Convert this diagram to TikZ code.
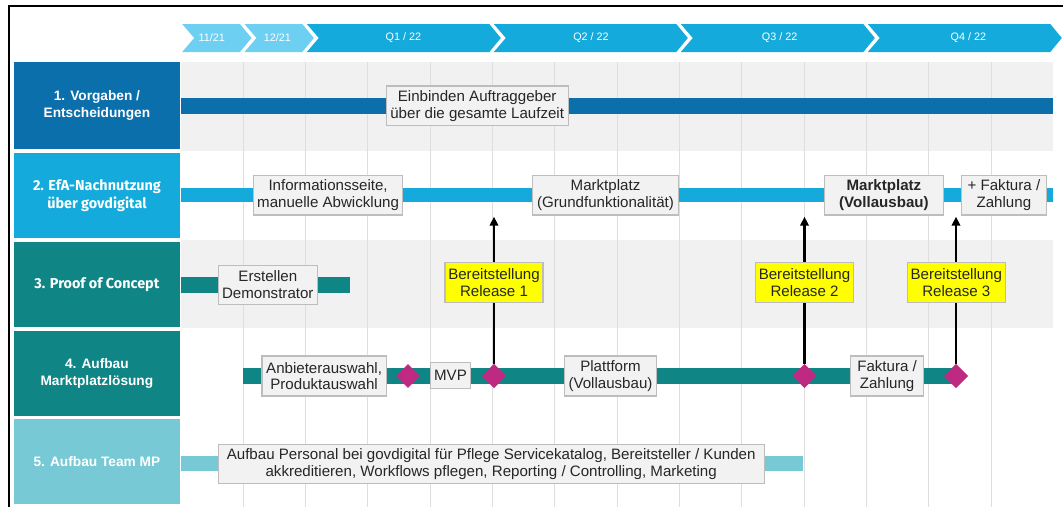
\documentclass[tikz,border=0pt]{standalone}
\usepackage{fontspec}
\setmainfont{Liberation Sans}
\newfontfamily\roundfont{Fira Sans}
\usetikzlibrary{shapes.geometric,arrows.meta}

\definecolor{darkblue}{HTML}{0B6FAC}
\definecolor{midblue}{HTML}{14ABDC}
\definecolor{paleblue}{HTML}{6DCFF1}
\definecolor{teal}{HTML}{108586}
\definecolor{lightteal}{HTML}{77CAD5}
\definecolor{magenta}{HTML}{BE2A81}
\definecolor{bandgrey}{HTML}{F1F1F1}
\definecolor{gridgrey}{HTML}{DEDEDE}
\definecolor{boxfill}{HTML}{F2F2F2}
\definecolor{boxline}{HTML}{BDBDBD}
\definecolor{textdark}{HTML}{262626}
\definecolor{relyellow}{HTML}{FFFF00}

\begin{document}
\begin{tikzpicture}[x=1pt,y=-1pt,
  rowlabel/.style={draw=none, text=white, align=center, inner sep=0,
    minimum width=166.8, font=\bfseries\fontsize{13.7}{16.7}\selectfont},
  roundlabel/.style={rowlabel, font=\roundfont\bfseries\fontsize{14.4}{17.5}\selectfont},
  chev/.style={fill=#1, draw=none},
  chevtext/.style={text=white, inner sep=0, font=\fontsize{10.8}{12}\selectfont},
  note/.style={fill=boxfill, draw=boxline, line width=1.1, text=textdark,
    align=center, inner sep=0, font=\fontsize{15.1}{16.8}\selectfont},
  relbox/.style={note, fill=relyellow, minimum width=98, minimum height=39.6},
  ms/.style={diamond, fill=magenta, draw=none, inner sep=0, aspect=1,
    minimum width=24, minimum height=24},
  gridline/.style={draw=gridgrey, line width=1},
  release/.style={draw=black, line width=2.2, -{Triangle[width=8.5,length=9]}}
]
\useasboundingbox (0,0) rectangle (1063,507);
\fill[white] (0,0) rectangle (1063,507);

% frame lines at the top and the left
\draw[black, line width=2.2] (7.5,6) -- (1063,6);
\draw[black, line width=2.6] (8.8,5) -- (8.8,507);

% timeline header: one chevron per month / quarter
\foreach \a/\b/\c/\t/\tx/\n in {180.7/243.0/paleblue/{11/21}/211.7/h1,
                                243.0/305.3/paleblue/{12/21}/277.3/h2,
                                305.3/492.3/midblue/{Q1 / 22}/403.4/h3,
                                492.3/679.3/midblue/{Q2 / 22}/591.0/h4,
                                679.3/866.3/midblue/{Q3 / 22}/779.7/h5,
                                866.3/1053.3/midblue/{Q4 / 22}/968.4/h6}{
  \fill[chev=\c] (\a+1.5,24) -- (\b-3,24) -- (\b+8.5,38) -- (\b-3,52)
     -- (\a+1.5,52) -- (\a+13.5,38) -- cycle;
  \node[chevtext] (\n) at (\tx,38) {\t};
}

% shaded bands behind rows 1 and 3
\fill[bandgrey] (180.7,62.3) rectangle (1053.3,150.5);
\fill[bandgrey] (180.7,240) rectangle (1053.3,328);

% monthly grid
\foreach \k in {1,...,13}{
  \draw[gridline] (180.7+62.33*\k,62.3) -- (180.7+62.33*\k,507);
}

% row headings
\node[rowlabel, fill=darkblue, minimum height=86.7] (lab1) at (96.9,105.65)
  {1. Vorgaben /\\Entscheidungen};
\node[roundlabel, fill=midblue, minimum height=85] (lab2) at (96.9,195.8)
  {2. EfA-Nachnutzung\\über govdigital};
\node[roundlabel, fill=teal, minimum height=85] (lab3) at (96.9,284.2)
  {3. Proof of Concept};
\node[rowlabel, fill=teal, minimum height=85] (lab4) at (96.9,373.2)
  {4. Aufbau\\Marktplatzlösung};
\node[rowlabel, fill=lightteal, minimum height=85] (lab5) at (96.9,461.5)
  {5. Aufbau Team MP};

% activity bars
\fill[darkblue]  (180.7,97.7)  rectangle (1053.3,114.3);
\fill[midblue]   (180.7,188.3) rectangle (1053.3,202.3);
\fill[teal]      (180.7,276.7) rectangle (350,293.3);
\fill[teal]      (243,367.7)   rectangle (956,384);
\fill[lightteal] (180.7,456)   rectangle (803.3,471);

% release arrows end just below the platform bar
\coordinate (t1) at (494,216.7);
\coordinate (t2) at (804.5,216.7);
\coordinate (t3) at (956,216.7);

% milestones of row 4
\node[ms] (m1) at (408,376) {};
\node[ms] (m2) at (494,376) {};
\node[ms] (m3) at (804.5,376) {};
\node[ms] (m4) at (956,376) {};

\draw[release] (m2.north) -- (t1);
\draw[release] (m3.north) -- (t2);
\draw[release] (m4.north) -- (t3);
\node[ms] at (m2) {};
\node[ms] at (m3) {};
\node[ms] at (m4) {};

% release labels
\node[relbox] (r1) at (494,282.5) {Bereitstellung\\Release 1};
\node[relbox] (r2) at (804.5,282.5) {Bereitstellung\\Release 2};
\node[relbox] (r3) at (956.3,282.5) {Bereitstellung\\Release 3};

% task boxes
\node[note, minimum width=182, minimum height=39.7] (einb) at (477.2,105.8)
  {Einbinden Auftraggeber\\über die gesamte Laufzeit};
\node[note, minimum width=149.4, minimum height=39.3] (info) at (328.1,195.3)
  {Informationsseite,\\manuelle Abwicklung};
\node[note, minimum width=145.4, minimum height=39.3] (mgf) at (605.5,195.3)
  {Marktplatz\\(Grundfunktionalität)};
\node[note, minimum width=118.4, minimum height=39.3,
  font=\bfseries\fontsize{15.1}{16.8}\selectfont] (mvoll) at (883.9,195.3)
  {Marktplatz\\(Vollausbau)};
\node[note, minimum width=84.8, minimum height=39.3] (fz2) at (1003.9,195.3)
  {+ Faktura /\\Zahlung};
\node[note, minimum width=98.9, minimum height=39.3] (erst) at (267.8,284.7)
  {Erstellen\\Demonstrator};
\node[note, minimum width=124.2, minimum height=40] (anb) at (324.1,376)
  {Anbieterauswahl,\\Produktauswahl};
\node[note, minimum width=40.4, minimum height=25.6] (mvp) at (450.5,375.5)
  {MVP};
\node[note, minimum width=92.5, minimum height=40] (plat) at (610.5,376)
  {Plattform\\(Vollausbau)};
\node[note, minimum width=72.7, minimum height=40] (fz4) at (887.1,376)
  {Faktura /\\Zahlung};
\node[note, minimum width=545.8, minimum height=39.3] (team) at (491.2,463.7)
  {Aufbau Personal bei govdigital für Pflege Servicekatalog, Bereitsteller / Kunden\\akkreditieren, Workflows pflegen, Reporting / Controlling, Marketing};
\end{tikzpicture}
\end{document}
